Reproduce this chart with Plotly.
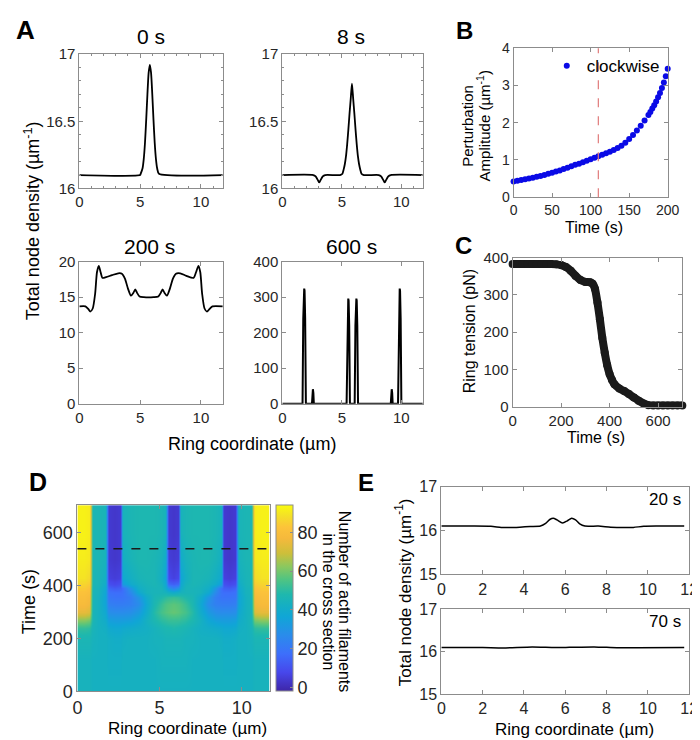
import plotly.graph_objects as go

FONT = "Arial, 'Liberation Sans', sans-serif"
W, H = 700, 740
GRAY = "#8c8c8c"
TXT = "#262626"

# ---- A: total node density snapshots ----
A0_X = [0, 5.0, 5.05, 5.2, 5.3, 5.4, 5.5, 5.6, 5.7, 5.8, 5.9, 6.0, 6.1, 6.2, 6.3, 6.4, 6.55, 11.8]
A0_Y = [16.1, 16.1, 16.11, 16.15, 16.22, 16.34, 16.51, 16.70, 16.86, 16.92, 16.86, 16.70, 16.51, 16.34, 16.22, 16.15, 16.11, 16.1]

A8_X = [0, 2.6, 2.8, 3.0, 3.1, 3.2, 3.4, 3.6,
        4.85, 5.05, 5.15, 5.25, 5.35, 5.45, 5.55, 5.65, 5.75, 5.85,
        5.95, 6.05, 6.15, 6.25, 6.35, 6.45, 6.55, 6.65, 6.85,
        8.1, 8.3, 8.5, 8.6, 8.7, 8.9, 9.1, 11.8]
A8_Y = [16.1, 16.1, 16.09, 16.06, 16.045, 16.06, 16.09, 16.1,
        16.1, 16.11, 16.14, 16.18, 16.24, 16.33, 16.44, 16.56, 16.67, 16.78,
        16.67, 16.56, 16.44, 16.33, 16.24, 16.18, 16.14, 16.11, 16.1,
        16.1, 16.09, 16.06, 16.045, 16.06, 16.09, 16.1, 16.1]

A200_X = [0, 0.5, 0.75, 0.9, 1.1, 1.3, 1.45, 1.6, 1.75, 1.9, 2.2, 2.7, 3.2, 3.5, 3.75, 4.0, 4.25, 4.45, 4.6,
          4.75, 4.95, 5.3, 6.1, 6.5, 6.7, 6.85, 7.0, 7.2, 7.45, 7.7, 7.95, 8.3, 8.8, 9.4, 9.6, 9.8, 9.95,
          10.1, 10.3, 10.5, 10.7, 10.95, 11.8]
A200_Y = [13.7, 13.7, 13.3, 12.97, 13.4, 15.5, 18.5, 19.4, 18.5, 17.7, 17.8, 18.1, 18.35, 18.3, 17.6, 16.2,
          15.2, 15.6, 16.1, 15.6, 15.1, 15.0, 15.0, 15.1, 15.6, 16.1, 15.6, 15.2, 16.2, 17.6, 18.3, 18.35,
          18.0, 17.7, 18.5, 19.4, 18.5, 15.5, 13.4, 12.97, 13.3, 13.7, 13.7]

A600_X = [0, 1.70, 1.76, 1.81, 1.84, 1.87, 1.92, 1.98, 2.49, 2.53, 2.57, 2.61, 2.65,
          5.40, 5.46, 5.51, 5.54, 5.57, 5.62, 5.68, 6.08, 6.14, 6.19, 6.22, 6.25, 6.30, 6.36,
          9.11, 9.15, 9.19, 9.23, 9.27, 9.72, 9.78, 9.83, 9.86, 9.89, 9.94, 10.00, 11.8]
A600_Y = [0, 0, 240, 318, 324, 318, 240, 0, 0, 30, 41, 30, 0,
          0, 220, 290, 296, 290, 220, 0, 0, 220, 290, 296, 290, 220, 0,
          0, 30, 41, 30, 0, 0, 240, 318, 324, 318, 240, 0, 0]

# ---- B: perturbation amplitude ----
B_TIME = [0, 5, 10, 15, 20, 25, 30, 35, 40, 45, 50, 55, 60, 65, 70, 75, 80, 85, 90, 95, 100, 105, 110, 115,
          120, 125, 130, 135, 140, 145, 150, 155, 160, 165, 170, 175, 177.5, 180, 182.5, 185, 187.5, 190,
          192.5, 195, 197.5, 200]
B_AMP = [0.42, 0.44, 0.46, 0.48, 0.50, 0.52, 0.55, 0.57, 0.60, 0.63, 0.66, 0.69, 0.72, 0.76, 0.79, 0.83,
         0.87, 0.90, 0.94, 0.98, 1.02, 1.06, 1.10, 1.14, 1.18, 1.22, 1.27, 1.32, 1.38, 1.46, 1.56, 1.67,
         1.79, 1.92, 2.06, 2.21, 2.29, 2.38, 2.47, 2.57, 2.68, 2.80, 2.93, 3.08, 3.25, 3.45]
B_MARK_TIME = 110

# ---- C: ring tension ----
C_TIME = [0, 20, 40, 60, 80, 100, 120, 140, 160, 180, 200, 220, 240, 260, 280, 300, 320, 330, 340, 350, 360,
          370, 380, 390, 400, 410, 420, 440, 460, 480, 500, 520, 540, 560, 580, 600, 620, 640, 660, 680, 700]
C_TENSION = [383, 383, 383, 383, 383, 383, 383, 383, 383, 382, 380, 375, 365, 351, 340, 335, 334, 330, 316,
             280, 235, 185, 145, 112, 88, 72, 60, 49, 42, 34, 25, 16, 9, 4, 3, 3, 3, 3, 3, 3, 3]

# ---- D: actin filaments in cross section (ring coordinate x time) ----
D_X = [0.0, 0.4, 0.7, 0.9, 1.3, 1.72, 1.88, 2.25, 2.6, 2.76, 3.2, 3.7, 4.2, 4.7, 5.1, 5.35, 5.51, 5.82,
       6.12, 6.28, 6.55, 7.0, 7.5, 8.0, 8.4, 8.74, 8.9, 9.26, 9.62, 9.78, 10.2, 10.6, 10.8, 11.2, 11.7]
D_T = [0, 120, 200, 240, 270, 300, 330, 355, 375, 390, 405, 430, 500, 600, 705]
D_Z = [
    [44, 44, 44, 43, 43, 43, 43, 43, 43, 43, 43, 43, 43, 43, 43, 43, 43, 43, 43, 43, 43, 43, 43, 43, 43, 43, 43, 43, 43, 43, 43, 43, 44, 44, 44],
    [44, 44, 44, 43, 43, 43, 42, 42, 42, 43, 43, 43, 43, 43, 44, 44, 44, 44, 44, 44, 44, 43, 43, 43, 43, 43, 42, 42, 42, 43, 43, 43, 44, 44, 44],
    [46, 46, 46, 44, 43, 43, 42, 41, 41, 42, 43, 43, 43, 44, 44, 45, 45, 45, 45, 45, 44, 44, 43, 43, 43, 42, 41, 41, 42, 43, 43, 44, 46, 46, 46],
    [51, 51, 50, 45, 43, 42, 39, 38, 38, 39, 40, 41, 42, 44, 46, 47, 47, 48, 47, 47, 46, 44, 42, 41, 40, 39, 38, 38, 39, 42, 43, 45, 50, 51, 51],
    [62, 62, 60, 46, 43, 40, 34, 33, 33, 33, 34, 37, 43, 47, 50, 51, 52, 52, 52, 51, 50, 47, 43, 37, 34, 33, 33, 33, 34, 40, 43, 46, 60, 62, 62],
    [74, 74, 72, 45, 43, 38, 28, 27, 27, 27, 28, 32, 40, 49, 54, 56, 57, 58, 57, 56, 54, 49, 40, 32, 28, 27, 27, 27, 28, 38, 43, 45, 72, 74, 74],
    [78, 78, 76, 45, 43, 36, 23, 22, 22, 22, 23, 27, 38, 47, 52, 55, 56, 57, 56, 55, 52, 47, 38, 27, 23, 22, 22, 22, 23, 36, 43, 45, 76, 78, 78],
    [80, 80, 78, 45, 43, 36, 20, 19, 19, 19, 22, 30, 40, 46, 48, 50, 51, 52, 51, 50, 48, 46, 40, 30, 22, 19, 19, 19, 20, 36, 43, 45, 78, 80, 80],
    [82, 82, 80, 45, 44, 37, 18, 17, 17, 18, 26, 38, 44, 45, 45, 44, 42, 40, 42, 44, 45, 45, 44, 38, 26, 18, 17, 17, 18, 37, 44, 45, 80, 82, 82],
    [84, 84, 82, 45, 44, 38, 15, 13, 14, 17, 30, 41, 44, 45, 45, 40, 30, 24, 30, 40, 45, 45, 44, 41, 30, 17, 14, 13, 15, 38, 44, 45, 82, 84, 84],
    [86, 86, 84, 46, 45, 40, 10, 8, 10, 32, 39, 43, 45, 46, 44, 38, 16, 14, 16, 38, 44, 46, 45, 43, 39, 32, 10, 8, 10, 40, 45, 46, 84, 86, 86],
    [89, 89, 87, 46, 45, 42, 6, 5, 6, 38, 42, 45, 46, 46, 42, 36, 8, 6, 8, 36, 42, 46, 46, 45, 42, 38, 6, 5, 6, 42, 45, 46, 87, 89, 89],
    [91, 91, 90, 46, 46, 44, 4, 3, 4, 42, 45, 47, 47, 46, 44, 40, 5, 4, 5, 40, 44, 46, 47, 47, 45, 42, 4, 3, 4, 44, 46, 46, 90, 91, 91],
    [92, 92, 91, 46, 46, 45, 4, 3, 4, 44, 46, 47, 47, 47, 46, 44, 4, 3, 4, 44, 46, 47, 47, 47, 46, 44, 4, 3, 4, 45, 46, 46, 91, 92, 92],
    [92, 92, 91, 46, 46, 45, 4, 3, 4, 44, 46, 47, 47, 47, 46, 44, 4, 3, 4, 44, 46, 47, 47, 47, 46, 44, 4, 3, 4, 45, 46, 46, 91, 92, 92],
]
D_MARK_TIME = 540

# ---- E: early density profiles ----
E20_X = [0, 1.5, 2.4, 2.9, 3.3, 3.8, 4.3, 4.8, 5.05, 5.25, 5.42, 5.6, 5.87, 6.1, 6.31, 6.5, 6.7, 6.95, 7.6,
         8.2, 8.8, 9.3, 9.8, 10.5, 11.76]
E20_Y = [16.1, 16.1, 16.095, 16.07, 16.065, 16.075, 16.09, 16.1, 16.16, 16.25, 16.28, 16.24, 16.17, 16.22,
         16.28, 16.24, 16.15, 16.1, 16.1, 16.075, 16.065, 16.07, 16.095, 16.1, 16.1]
E70_X = [0, 2, 3, 4.4, 5.5, 6.2, 7.4, 8.5, 9.5, 11.76]
E70_Y = [16.1, 16.1, 16.09, 16.115, 16.1, 16.105, 16.115, 16.095, 16.095, 16.1]

PARULA = [
    [0.00, "#3e26a8"], [0.10, "#4747eb"], [0.20, "#3d6ffb"], [0.30, "#2a8ceb"],
    [0.40, "#10a6d6"], [0.46, "#15afc3"], [0.52, "#1fb8ad"], [0.60, "#50c482"],
    [0.67, "#8cc85e"], [0.74, "#cdbf3a"], [0.82, "#f5b93c"], [0.88, "#fcc33a"],
    [0.94, "#f4df28"], [1.00, "#f9fb0e"],
]


def px_x(p):
    return p / W


def px_y(p):
    return 1 - p / H


def make_axis(dom, rng, ticks, size, anchor, minor=None):
    d = dict(domain=dom, range=rng, tickvals=ticks, anchor=anchor, showline=True, linecolor=GRAY,
             linewidth=1, mirror="ticks", ticks="inside", ticklen=4, tickcolor=GRAY,
             tickfont=dict(size=size, color=TXT, family=FONT), showgrid=False, zeroline=False)
    if minor:
        d["minor"] = dict(dtick=minor, ticks="inside", ticklen=2, tickcolor=GRAY)
    return d


fig = go.Figure()
layout = {}

# (n, x px range, y px range, x range, y range, xticks, yticks, font size, x minor, y minor)
panels = [
    (1, (68, 215), (38, 176), [0, 11.8], [16, 17], [0, 5, 10], [16, 16.5, 17], 15, 1, 0.1),
    (2, (276, 420), (38, 176), [0, 11.8], [16, 17], [0, 5, 10], [16, 16.5, 17], 15, 1, 0.1),
    (3, (68, 215), (251, 397), [0, 11.8], [0, 20], [0, 5, 10], [0, 5, 10, 15, 20], 15, None, None),
    (4, (276, 420), (251, 397), [0, 11.8], [0, 400], [0, 5, 10], [0, 100, 200, 300, 400], 15, None, None),
    (5, (513, 671), (32, 185), [0, 200], [0, 4], [0, 50, 100, 150, 200], [0, 1, 2, 3, 4], 14, None, None),
    (6, (512, 686), (247, 400), [0, 700], [0, 400], [0, 200, 400, 600], [0, 100, 200, 300, 400], 15, None, None),
    (7, (66, 263), (501, 692), [0, 11.7], [0, 705], [0, 5, 10], [0, 200, 400, 600], 18, None, None),
    (8, (439, 693), (482, 572), [0, 12], [15, 17], [0, 2, 4, 6, 8, 10, 12], [15, 16, 17], 16, None, None),
    (9, (439, 693), (608, 695), [0, 12], [15, 17], [0, 2, 4, 6, 8, 10, 12], [15, 16, 17], 16, None, None),
]
for n, xp, yp, xr, yr, xt, yt, fs, xm, ym in panels:
    s = "" if n == 1 else str(n)
    layout["xaxis" + s] = make_axis([px_x(xp[0]), px_x(xp[1])], xr, xt, fs, "y" + s, xm)
    layout["yaxis" + s] = make_axis([px_y(yp[1]), px_y(yp[0])], yr, yt, fs, "x" + s, ym)

line_k = dict(color="black", width=1.8)
fig.add_trace(go.Scatter(x=A0_X, y=A0_Y, mode="lines", line=dict(shape="spline", smoothing=0.6, **line_k),
                         xaxis="x", yaxis="y", showlegend=False))
fig.add_trace(go.Scatter(x=A8_X, y=A8_Y, mode="lines", line=dict(shape="spline", smoothing=0.6, **line_k),
                         xaxis="x2", yaxis="y2", showlegend=False))
fig.add_trace(go.Scatter(x=A200_X, y=A200_Y, mode="lines", line=dict(shape="spline", smoothing=0.7, **line_k),
                         xaxis="x3", yaxis="y3", showlegend=False))
fig.add_trace(go.Scatter(x=A600_X, y=A600_Y, mode="lines", line=dict(color="black", width=2),
                         xaxis="x4", yaxis="y4", showlegend=False))

fig.add_trace(go.Scatter(x=B_TIME, y=B_AMP, mode="markers", name="clockwise",
                         marker=dict(color="#0a0ae6", size=6), cliponaxis=False,
                         xaxis="x5", yaxis="y5", showlegend=True))

fig.add_trace(go.Scatter(x=C_TIME, y=C_TENSION, mode="lines+markers",
                         line=dict(color="#1a1a1a", width=8, shape="spline", smoothing=0.4),
                         marker=dict(color="#1a1a1a", size=8), cliponaxis=False,
                         xaxis="x6", yaxis="y6", showlegend=False))

fig.add_trace(go.Heatmap(
    x=D_X, y=D_T, z=D_Z, zsmooth="best", colorscale=PARULA, zmin=-2, zmax=94,
    xaxis="x7", yaxis="y7",
    colorbar=dict(x=px_x(270), xanchor="left", xpad=0, ypad=0, y=px_y(692), yanchor="bottom",
                  len=(692 - 501) / H, lenmode="fraction", thickness=17, outlinewidth=1, outlinecolor=GRAY,
                  tickvals=[0, 20, 40, 60, 80], ticks="inside", ticklen=3, tickcolor=GRAY,
                  tickfont=dict(size=18, color=TXT, family=FONT)),
))

fig.add_trace(go.Scatter(x=E20_X, y=E20_Y, mode="lines", line=dict(shape="spline", smoothing=0.6, color="black", width=1.5),
                         xaxis="x8", yaxis="y8", showlegend=False))
fig.add_trace(go.Scatter(x=E70_X, y=E70_Y, mode="lines", line=dict(shape="spline", smoothing=0.6, color="black", width=1.5),
                         xaxis="x9", yaxis="y9", showlegend=False))

shapes = [
    dict(type="line", xref="x5", yref="y5 domain", x0=B_MARK_TIME, x1=B_MARK_TIME, y0=0, y1=1,
         line=dict(color="#e07a7a", width=1.2, dash="dash")),
    dict(type="line", xref="x7 domain", yref="y7", x0=0, x1=1, y0=D_MARK_TIME, y1=D_MARK_TIME,
         line=dict(color="#1a1a1a", width=1.5, dash="dash")),
]


def note(text, x, y, size, angle=0, bold=False, color="black"):
    if bold:
        text = "<b>" + text + "</b>"
    return dict(text=text, x=px_x(x), y=px_y(y), xref="paper", yref="paper", showarrow=False,
                xanchor="center", yanchor="middle", textangle=angle,
                font=dict(size=size, color=color, family=FONT))


UM_INV = "(\u00b5m<sup>-1</sup>)"
annotations = [
    note("A", 13, 13, 26, bold=True), note("B", 463, 14, 24, bold=True), note("C", 462, 235, 24, bold=True),
    note("D", 26, 477, 25, bold=True), note("E", 362, 478, 24, bold=True),
    note("0 s", 141, 20, 21), note("8 s", 346, 20, 21), note("200 s", 140, 236, 21), note("600 s", 347, 236, 21),
    note("Total node density " + UM_INV, 20, 209, 18, angle=-90),
    note("Ring coordinate (\u00b5m)", 245, 438, 18),
    note("Perturbation", 465, 112, 15, angle=-90),
    note("Amplitude " + UM_INV, 482, 112, 15, angle=-90),
    note("Time (s)", 595, 216, 16),
    note("Ring tension (pN)", 468, 322, 16, angle=-90),
    note("Time (s)", 598, 432, 16),
    note("Time (s)", 16, 600, 18, angle=-90),
    note("Ring coordinate (\u00b5m)", 179, 730, 17),
    note("in the cross section", 323, 600, 16, angle=90),
    note("Number of actin filaments", 340, 600, 16, angle=90),
    note("Total node density " + UM_INV, 400, 590, 17, angle=-90),
    note("Ring coordinate (\u00b5m)", 575, 731, 17),
    note("20 s", 668, 495, 17), note("70 s", 668, 620, 17),
]

fig.update_layout(
    width=W, height=H, margin=dict(l=0, r=0, t=0, b=0),
    paper_bgcolor="white", plot_bgcolor="white",
    font=dict(family=FONT, color=TXT),
    shapes=shapes, annotations=annotations,
    legend=dict(x=px_x(668), y=px_y(32), xanchor="right", yanchor="top", bgcolor="rgba(0,0,0,0)",
                font=dict(size=17, color="black", family=FONT), borderwidth=0, itemwidth=30),
    **layout,
)

fig.write_html("out.html")
